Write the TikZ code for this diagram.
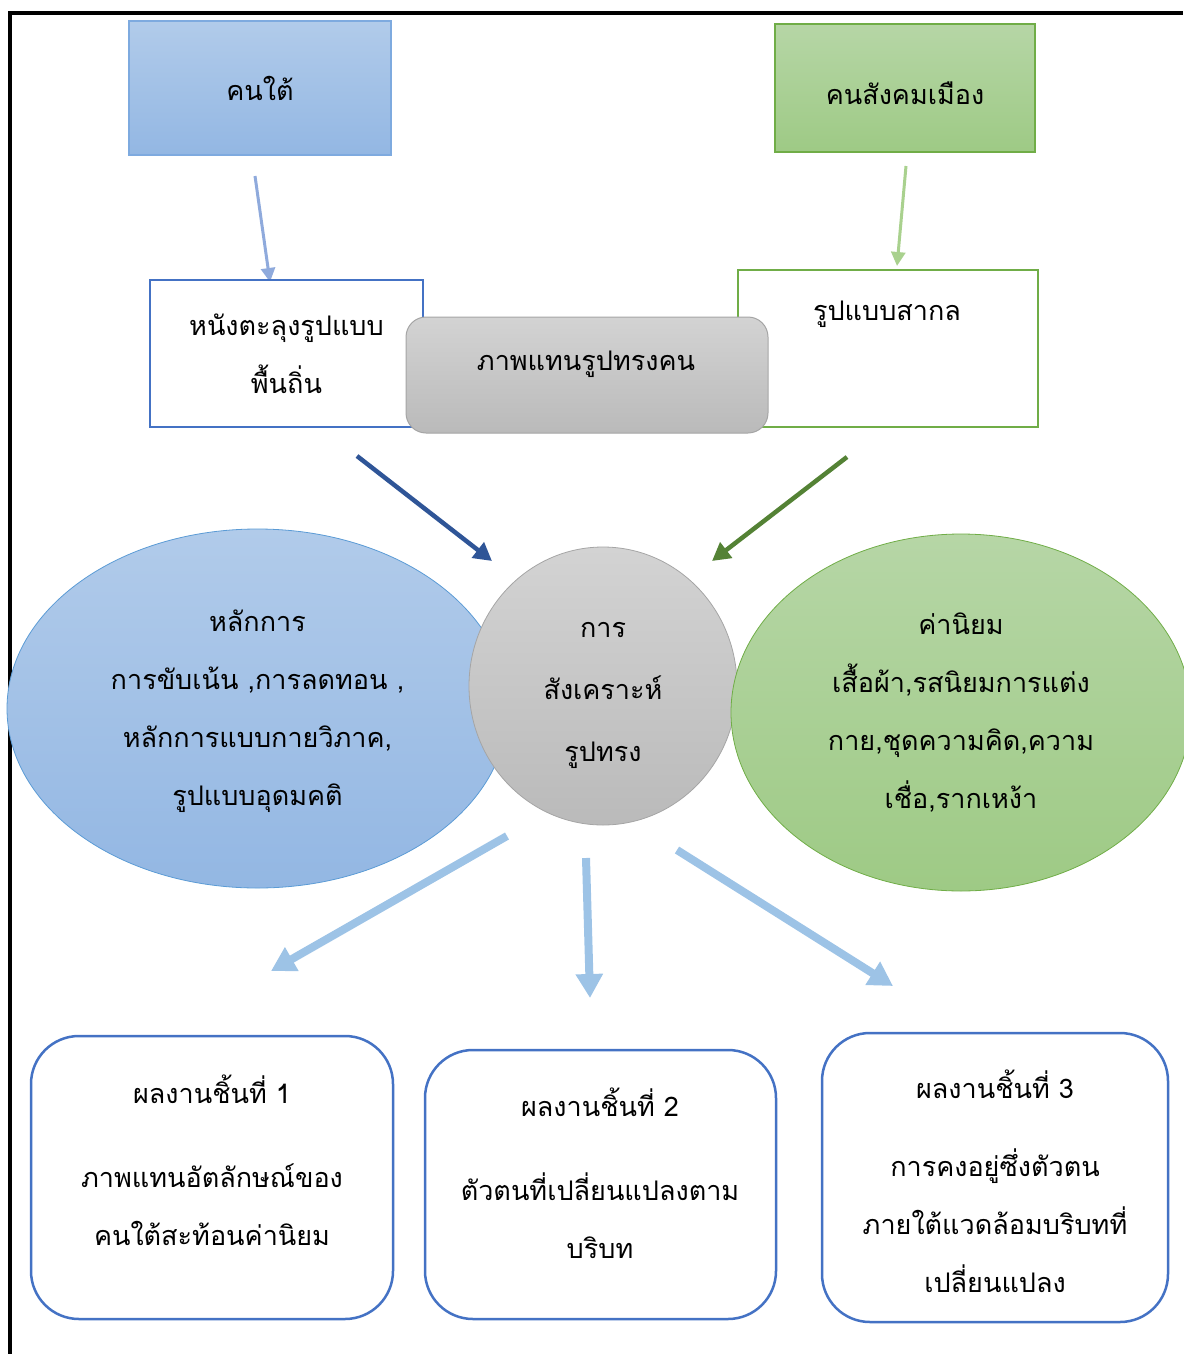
\documentclass[tikz,border=0pt]{standalone}
\usepackage{fontspec}
\newfontfamily\thai[Script=Thai]{Loma}
\usetikzlibrary{arrows.meta,shapes.geometric}
\definecolor{bluetop}{HTML}{B1CBEA}
\definecolor{bluebot}{HTML}{93B7E3}
\definecolor{blueline}{HTML}{7EAADF}
\definecolor{ellblue}{HTML}{5B9BD5}
\definecolor{darkblueline}{HTML}{4472C4}
\definecolor{greentop}{HTML}{B6D6A6}
\definecolor{greenbot}{HTML}{9ECA85}
\definecolor{greenline}{HTML}{70AD47}
\definecolor{graytop}{HTML}{D3D3D3}
\definecolor{graybot}{HTML}{BABABA}
\definecolor{grayline}{HTML}{A5A5A5}
\definecolor{arrA}{HTML}{8FAADC}
\definecolor{arrB}{HTML}{A9D18E}
\definecolor{arrC}{HTML}{2F5597}
\definecolor{arrD}{HTML}{548235}
\definecolor{arrE}{HTML}{9DC3E6}
\begin{document}
\begin{tikzpicture}[x=1pt,y=-1pt,
  txt/.style={font=\thai\fontsize{27}{58}\selectfont, align=center, inner sep=0pt, text=black},
  srcblue/.style={txt, draw=blueline, line width=1.2pt, top color=bluetop, bottom color=bluebot},
  srcgreen/.style={txt, draw=greenline, line width=1.2pt, top color=greentop, bottom color=greenbot},
  whiteblue/.style={txt, draw=darkblueline, line width=2pt, fill=white},
  whitegreen/.style={txt, draw=greenline, line width=2pt, fill=white},
  graybox/.style={txt, draw=grayline, line width=1pt, rounded corners=20pt, top color=graytop, bottom color=graybot},
  ellB/.style={txt, ellipse, draw=ellblue, line width=0.8pt, top color=bluetop, bottom color=bluebot},
  ellG/.style={txt, ellipse, draw=greenline, line width=0.8pt, top color=greentop, bottom color=greenbot},
  circG/.style={txt, ellipse, draw=grayline, line width=0.8pt, top color=graytop, bottom color=graybot},
  resbox/.style={draw=darkblueline, line width=2.5pt, fill=white, rounded corners=48pt, inner sep=0pt},
  thin arrow/.style={line width=3pt, -{Triangle[length=14pt,width=14pt]}},
  mid arrow/.style={line width=4.5pt, -{Triangle[length=18pt,width=19pt]}},
  thick arrow/.style={line width=8pt, -{Triangle[length=24pt,width=26pt]}},
  frame/.style={line width=4pt, black}
]
\useasboundingbox (0,0) rectangle (1183,1354);
% frame
\coordinate (fA) at (10,1354);
\coordinate (fB) at (10,13);
\coordinate (fC) at (1183,13);
\draw[frame] (fA) -- (fB) -- (fC);

% top source boxes
\node[srcblue, minimum width=262pt, minimum height=134pt] (south) at (260,88) {คนใต้};
\node[srcgreen, minimum width=260pt, minimum height=128pt] (urban) at (905,88) {};
\node[txt] (urbant) at (905,93) {คนสังคมเมือง};

% thin arrows
\coordinate (a1s) at (255,176);
\coordinate (a1e) at (270,282);
\coordinate (a2s) at (906,166);
\coordinate (a2e) at (897,266);
\draw[thin arrow, arrA] (a1s) -- (a1e);
\draw[thin arrow, arrB] (a2s) -- (a2e);

% white boxes
\node[whiteblue, minimum width=273pt, minimum height=147pt] (local) at (286.5,353.5) {หนังตะลุงรูปแบบ\\พื้นถิ่น};
\node[whitegreen, minimum width=300pt, minimum height=157pt] (intl) at (888,348.5) {};
\node[txt] (intlt) at (887,314) {รูปแบบสากล};

% gray rounded box
\node[graybox, minimum width=362pt, minimum height=116pt] (rep) at (587,375) {};
\node[txt] (rept) at (586,364) {ภาพแทนรูปทรงคน};

% dark arrows
\coordinate (a3s) at (357,456);
\coordinate (a3e) at (492,561);
\coordinate (a4s) at (847,457);
\coordinate (a4e) at (712,561);
\draw[mid arrow, arrC] (a3s) -- (a3e);
\draw[mid arrow, arrD] (a4s) -- (a4e);

% ellipses and circle
\node[ellB, minimum width=501pt, minimum height=359pt] (principle) at (257.5,708.5) {};
\node[txt] (principlet) at (257.5,711)
  {หลักการ\\การขับเน้น ,การลดทอน ,\\หลักการแบบกายวิภาค,\\รูปแบบอุดมคติ};
\node[circG, minimum width=268pt, minimum height=278pt] (synth) at (603,686) {};
\node[txt, font=\thai\fontsize{27}{62}\selectfont] (syntht) at (603,695)
  {การ\\สังเคราะห์\\รูปทรง};
\node[ellG, minimum width=460pt, minimum height=357pt] (values) at (961,712.5)
  {ค่านิยม\\เสื้อผ้า,รสนิยมการแต่ง\\กาย,ชุดความคิด,ความ\\เชื่อ,รากเหง้า};

% thick arrows
\coordinate (b1s) at (507,836);
\coordinate (b1e) at (271,971);
\coordinate (b2s) at (586,858);
\coordinate (b2e) at (590,998);
\coordinate (b3s) at (677,850);
\coordinate (b3e) at (893,986);
\draw[thick arrow, arrE] (b1s) -- (b1e);
\draw[thick arrow, arrE] (b2s) -- (b2e);
\draw[thick arrow, arrE] (b3s) -- (b3e);

% result boxes
\node[resbox, minimum width=362pt, minimum height=283pt] (r1) at (212,1177.5) {};
\node[txt] (r1t) at (212,1160) {ผลงานชิ้นที่ 1\\[26pt]ภาพแทนอัตลักษณ์ของ\\คนใต้สะท้อนค่านิยม};
\node[resbox, minimum width=351pt, minimum height=269pt] (r2) at (600.5,1184.5) {};
\node[txt] (r2t) at (600,1173) {ผลงานชิ้นที่ 2\\[26pt]ตัวตนที่เปลี่ยนแปลงตาม\\บริบท};
\node[resbox, minimum width=346pt, minimum height=289pt] (r3) at (995,1177.5) {};
\node[txt] (r3t) at (995,1181.5) {ผลงานชิ้นที่ 3\\[20pt]การคงอยู่ซึ่งตัวตน\\ภายใต้แวดล้อมบริบทที่\\เปลี่ยนแปลง};
\end{tikzpicture}
\end{document}
